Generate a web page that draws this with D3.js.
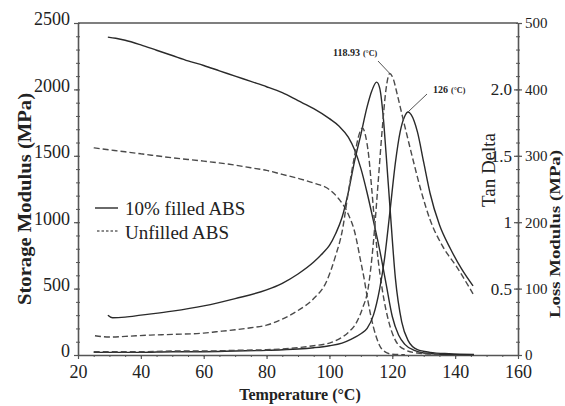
<!DOCTYPE html>
<html>
<head>
<meta charset="utf-8">
<script src="https://cdn.jsdelivr.net/npm/d3@7"></script>
<style>
  html, body { margin: 0; padding: 0; background: #fff; }
  svg { display: block; }
  svg text { font-family: "Liberation Serif", "Tinos", "Times New Roman", "DejaVu Serif", serif !important; fill: #222; }
</style>
</head>
<body>
<svg id="chart" width="565" height="406"></svg>
<script>
// ---------- data (temperature °C, value) ----------
const storageFilled = [[29.5,2394],[32,2385],[35,2370],[40,2335],[45,2295],[50,2255],[55,2215],[60,2180],[65,2140],[70,2100],[75,2060],[80,2020],[85,1975],[90,1915],[95,1855],[100,1780],[103,1725],[106,1640],[108,1545],[110,1405],[112,1220],[114,1010],[116,790],[118,540],[120,290],[122,150],[124,80],[127,35],[130,15],[135,6],[140,3],[146,2]];
const storageUnfilled = [[25,1560],[30,1545],[35,1530],[40,1515],[50,1485],[60,1460],[70,1430],[75,1410],[80,1390],[85,1360],[90,1330],[95,1295],[100,1245],[103,1175],[106,1060],[108,930],[110,700],[111,580],[112,440],[114,210],[116,70],[118,20],[120,6],[124,2]];
const lossFilled = [[29.5,60],[31,56],[35,57],[40,60],[50,66],[60,74],[70,85],[80,98],[85,108],[90,122],[95,140],[98,154],[100,165],[102,183],[104,207],[106,245],[108,292],[110,332],[112,374],[113.5,398],[115,411],[116,402],[117,365],[118,305],[119.3,220],[121,115],[123,50],[125,22],[128,8],[132,4],[138,2],[146,1]];
const lossUnfilled = [[25.4,29],[30,27],[35,28],[43,30],[50,31],[60,33],[64,35],[70,38],[75,41],[80,45],[85,54],[90,67],[95,85],[99,110],[102,150],[104,185],[106,245],[108,300],[109.5,333],[110.5,342],[111.5,330],[112.5,300],[113.5,248],[115,165],[117,93],[119,48],[121,22],[124,8],[128,3],[135,1]];
const tanFilled = [[25,0.02],[30,0.02],[40,0.02],[50,0.025],[60,0.025],[70,0.03],[80,0.035],[90,0.045],[95,0.055],[100,0.07],[104,0.09],[107,0.12],[110,0.16],[112,0.2],[114,0.3],[116,0.5],[117.5,0.72],[119.3,1.09],[121,1.45],[122.5,1.68],[124,1.8],[125,1.83],[126,1.81],[128,1.68],[130,1.45],[132,1.22],[135,0.98],[138.5,0.8],[142,0.65],[145.7,0.52]];
const tanUnfilled = [[25,0.025],[30,0.025],[40,0.025],[50,0.03],[60,0.03],[70,0.035],[80,0.04],[90,0.055],[95,0.07],[100,0.09],[103,0.12],[106,0.17],[108.5,0.24],[110.5,0.35],[112.3,0.5],[114,0.85],[115.5,1.3],[116.8,1.7],[118,2.0],[119.2,2.12],[120.3,2.08],[121.5,1.97],[123.4,1.78],[126.6,1.47],[129,1.25],[132,1.02],[136,0.82],[140.6,0.66],[145.7,0.46]];

const xTicks = [20,40,60,80,100,120,140,160];
const storageTicks = [0,500,1000,1500,2000,2500];
const lossTicks = [0,100,200,300,400,500];
const tanTicks = [0.5,1,1.5,2.0];
const tanTickLabels = ["0.5","1","1.5","2.0"];
const legendLabels = ["10% filled ABS","Unfilled ABS"];
const peakLabels = [{t:119.2, v:2.12, num:"118.93"},{t:125, v:1.83, num:"126"}];

// ---------- layout ----------
const L = 78, R = 518, T = 23, B = 355;
const svg = d3.select("#chart");
const x = d3.scaleLinear().domain([20,160]).range([L,R]);
const yS = d3.scaleLinear().domain([0,2500]).range([B,T]);
const yL = d3.scaleLinear().domain([0,500]).range([B,T]);
const yT = d3.scaleLinear().domain([0,2.5]).range([B,T]);
const fmt = d3.format("d");

const axisColor = "#555";

// frame top line
svg.append("line").attr("x1",L).attr("x2",R).attr("y1",T).attr("y2",T)
  .attr("stroke",axisColor).attr("stroke-width",1.4);

function styleAxis(g){
  g.attr("font-family",null);
  g.selectAll("path.domain").attr("stroke",axisColor).attr("stroke-width",1.6);
  g.selectAll(".tick line").attr("stroke",axisColor).attr("stroke-width",1.2);
  g.selectAll(".tick text").attr("fill","#222");
}

// left axis minor
svg.append("g").attr("transform",`translate(${L},0)`)
  .call(d3.axisLeft(yS).tickValues(d3.range(0,2501,100)).tickSize(2).tickFormat(""))
  .call(g=>{g.select(".domain").remove(); g.selectAll(".tick line").attr("x2",2).attr("x1",-2).attr("stroke",axisColor);});
// left axis major
svg.append("g").attr("transform",`translate(${L},0)`)
  .call(d3.axisLeft(yS).tickValues(storageTicks).tickFormat(fmt).tickSize(4).tickSizeOuter(0).tickPadding(4))
  .call(styleAxis)
  .call(g=>g.selectAll(".tick text").attr("font-size",18).attr("dy","0.1em"));

// bottom axis minor
svg.append("g").attr("transform",`translate(0,${B})`)
  .call(d3.axisBottom(x).tickValues(d3.range(20,161,5)).tickSize(2).tickFormat(""))
  .call(g=>{g.select(".domain").remove(); g.selectAll(".tick line").attr("stroke",axisColor);});
// bottom axis major
svg.append("g").attr("transform",`translate(0,${B})`)
  .call(d3.axisBottom(x).tickValues(xTicks).tickFormat(fmt).tickSize(4).tickSizeOuter(0).tickPadding(6))
  .call(styleAxis)
  .call(g=>g.selectAll(".tick text").attr("font-size",18));

// right axis minor (crossing)
svg.append("g").attr("transform",`translate(${R},0)`)
  .call(d3.axisRight(yL).tickValues(d3.range(0,501,20)).tickSize(2).tickFormat(""))
  .call(g=>{g.select(".domain").remove(); g.selectAll(".tick line").attr("x1",-2).attr("x2",2).attr("stroke",axisColor);});
// right axis: loss modulus labels on the right
svg.append("g").attr("transform",`translate(${R},0)`)
  .call(d3.axisRight(yL).tickValues(lossTicks).tickFormat(fmt).tickSize(4).tickSizeOuter(0).tickPadding(3))
  .call(styleAxis)
  .call(g=>g.selectAll(".tick text").attr("font-size",15));
// right axis: tan delta labels on the left
svg.append("g").attr("transform",`translate(${R},0)`)
  .call(d3.axisLeft(yT).tickValues(tanTicks).tickSize(4).tickSizeOuter(0).tickPadding(2)
        .tickFormat((d,i)=>tanTickLabels[i]))
  .call(g=>g.select(".domain").remove())
  .call(styleAxis)
  .call(g=>g.selectAll(".tick text").attr("font-size",17));

// ---------- curves ----------
const solid = {stroke:"#2a2a2a", dash:null, w:1.4};
const dashed = {stroke:"#4a4a4a", dash:"6,3", w:1.4};
function drawSeries(data, y, st){
  const line = d3.line().x(d=>x(d[0])).y(d=>y(d[1])).curve(d3.curveMonotoneX);
  svg.append("path").datum(data).attr("d",line)
    .attr("fill","none").attr("stroke",st.stroke).attr("stroke-width",st.w)
    .attr("stroke-dasharray",st.dash);
}
drawSeries(storageFilled, yS, solid);
drawSeries(storageUnfilled, yS, dashed);
drawSeries(lossFilled, yL, solid);
drawSeries(lossUnfilled, yL, dashed);
drawSeries(tanFilled, yT, solid);
drawSeries(tanUnfilled, yT, dashed);

// ---------- peak annotations ----------
const ann = [
  {p:peakLabels[0], tx:333, ty:56, lx:378, ly:61},
  {p:peakLabels[1], tx:433, ty:93, lx:427, ly:94}
];
ann.forEach(a=>{
  svg.append("line").attr("x1",a.lx).attr("y1",a.ly)
    .attr("x2",x(a.p.t)).attr("y2",yT(a.p.v))
    .attr("stroke","#555").attr("stroke-width",1);
  const t = svg.append("text").attr("x",a.tx).attr("y",a.ty).attr("font-size",10).attr("font-weight","bold");
  t.append("tspan").text(a.p.num);
  t.append("tspan").attr("font-size",8).attr("dx",3).text("(°C)");
});

// ---------- legend ----------
svg.append("line").attr("x1",95).attr("x2",118).attr("y1",208).attr("y2",208)
  .attr("stroke","#2a2a2a").attr("stroke-width",1.4);
svg.append("line").attr("x1",97).attr("x2",118).attr("y1",231).attr("y2",231)
  .attr("stroke","#666").attr("stroke-width",1.3).attr("stroke-dasharray","2.5,2");
svg.append("text").attr("x",125).attr("y",215).attr("font-size",19).text(legendLabels[0]);
svg.append("text").attr("x",125).attr("y",239).attr("font-size",19).text(legendLabels[1]);

// ---------- axis titles ----------
svg.append("text").attr("transform","translate(31,199) rotate(-90)")
  .attr("text-anchor","middle").attr("font-size",19).attr("font-weight","bold")
  .attr("textLength",212).attr("lengthAdjust","spacingAndGlyphs")
  .text("Storage Modulus (MPa)");
svg.append("text").attr("transform","translate(495,170) rotate(-90)")
  .attr("text-anchor","middle").attr("font-size",18)
  .attr("textLength",74).attr("lengthAdjust","spacingAndGlyphs")
  .text("Tan Delta");
svg.append("text").attr("transform","translate(560,234) rotate(-90)")
  .attr("text-anchor","middle").attr("font-size",14).attr("font-weight","bold")
  .attr("textLength",168).attr("lengthAdjust","spacingAndGlyphs")
  .text("Loss Modulus (MPa)");
svg.append("text").attr("x",300).attr("y",400)
  .attr("text-anchor","middle").attr("font-size",16).attr("font-weight","bold")
  .text("Temperature (°C)");
</script>
</body>
</html>
